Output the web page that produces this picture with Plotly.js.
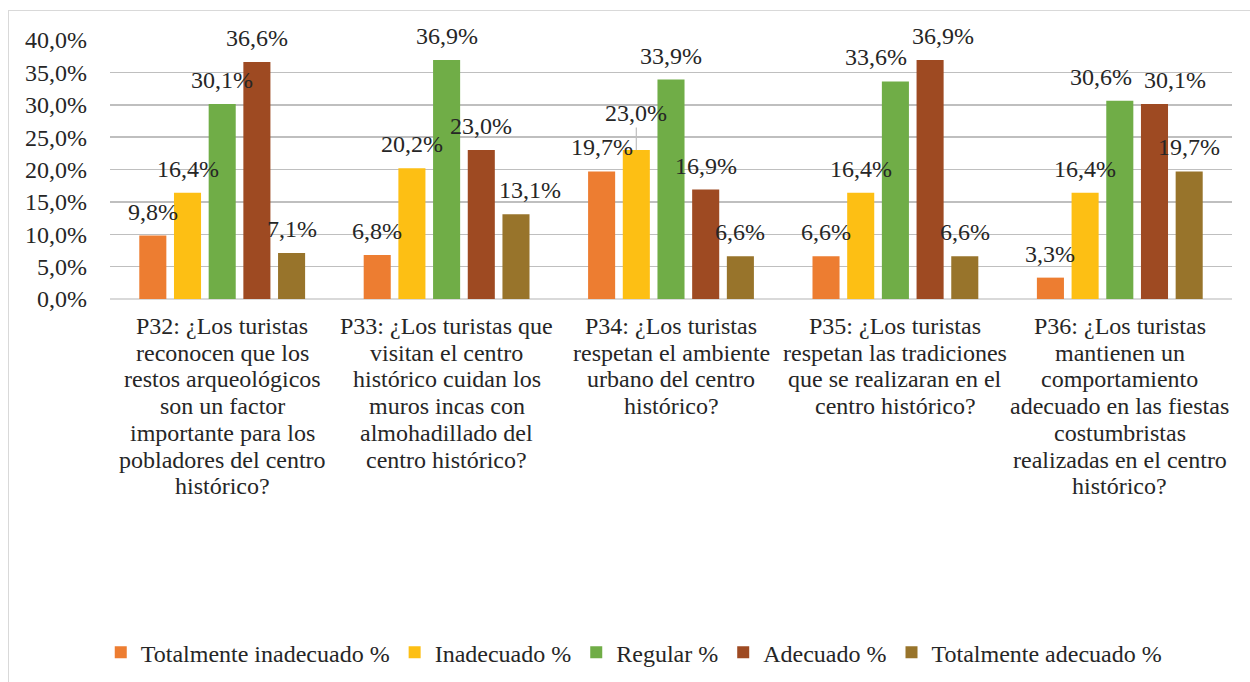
<!DOCTYPE html>
<html>
<head>
<meta charset="utf-8">
<script src="https://cdn.plot.ly/plotly-3.0.1.min.js"></script>
<style>
  html, body { margin:0; padding:0; background:#fff; }
  #chart { width:1250px; height:682px; position:absolute; left:0; top:0; }
  #frame { position:absolute; left:8px; top:10px; width:1245px; height:680px; border:1px solid #D9D9D9; pointer-events:none; }
</style>
</head>
<body>
<div id="chart"></div>
<div id="frame"></div>
<script>
// ---- data ----
const categories = ['P32', 'P33', 'P34', 'P35', 'P36'];
const tickLabels = [
  ['P32: ¿Los turistas', 'reconocen que los', 'restos arqueológicos', 'son un factor', 'importante para los', 'pobladores del centro', 'histórico?'],
  ['P33: ¿Los turistas que', 'visitan el centro', 'histórico cuidan los', 'muros incas con', 'almohadillado del', 'centro histórico?'],
  ['P34: ¿Los turistas', 'respetan el ambiente', 'urbano del centro', 'histórico?'],
  ['P35: ¿Los turistas', 'respetan las tradiciones', 'que se realizaran en el', 'centro histórico?'],
  ['P36: ¿Los turistas', 'mantienen un', 'comportamiento', 'adecuado en las fiestas', 'costumbristas', 'realizadas en el centro', 'histórico?']
];
const seriesNames = ['Totalmente inadecuado %', 'Inadecuado %', 'Regular %', 'Adecuado %', 'Totalmente adecuado %'];
const totalmenteInadecuado = [9.8, 6.8, 19.7, 6.6, 3.3];
const inadecuado = [16.4, 20.2, 23.0, 16.4, 16.4];
const regular = [30.1, 36.9, 33.9, 33.6, 30.6];
const adecuado = [36.6, 23.0, 16.9, 36.9, 30.1];
const totalmenteAdecuado = [7.1, 13.1, 6.6, 6.6, 19.7];

// ---- style ----
const colors = ['#ED7D31', '#FDBF14', '#70AD47', '#9E4A22', '#98742B'];
const FONT = 'Liberation Serif, Times New Roman, serif';
const FS = 24;
const TXT = '#262626';
const W = 1250, H = 682;
const M = { l: 110, r: 18, t: 40, b: 383 };
const BARGAP = 0.227, BARGROUPGAP = 0.22;

const values = [totalmenteInadecuado, inadecuado, regular, adecuado, totalmenteAdecuado];

const traces = values.map((v, i) => ({
  type: 'bar',
  name: seriesNames[i],
  x: categories,
  y: v,
  marker: { color: colors[i], line: { width: 0 } },
  hoverinfo: 'none'
}));

// data-label placement (label nudges as in the original chart)
const plotW = W - M.l - M.r;
const slot = (plotW / categories.length) * (1 - BARGAP) / values.length;
const nudges = { 'P33-4': [14, 0], 'P35-2': [-19, 0], 'P35-3': [13, 0], 'P36-2': [-19, 0], 'P36-3': [21, 0] };
const leader = { 'P34-1': 37 };
const fmt = n => n.toFixed(1).replace('.', ',') + '%';

const annotations = [];
values.forEach((v, i) => {
  v.forEach((val, j) => {
    const key = categories[j] + '-' + i;
    const nd = nudges[key] || [0, 0];
    const base = { x: categories[j], y: val, xref: 'x', yref: 'y', text: fmt(val),
      font: { family: FONT, size: FS, color: TXT }, xshift: (i - (values.length - 1) / 2) * slot + nd[0] };
    if (leader[key]) {
      annotations.push(Object.assign(base, { showarrow: true, arrowhead: 0, arrowwidth: 1.2, arrowcolor: '#BFBFBF',
        ax: 0, ay: -leader[key], standoff: 0, startstandoff: 0 }));
    } else {
      annotations.push(Object.assign(base, { showarrow: false, yanchor: 'middle', yshift: 24 + nd[1] }));
    }
  });
});

// category labels (multi-line, tight line spacing)
tickLabels.forEach((lines, j) => {
  lines.forEach((ln, k) => {
    annotations.push({ x: categories[j], y: 0, xref: 'x', yref: 'paper', text: ln, showarrow: false,
      xanchor: 'center', yanchor: 'middle', yshift: -27 - k * 26.7,
      font: { family: FONT, size: FS, color: TXT } });
  });
});

const layout = {
  width: W,
  height: H,
  margin: M,
  paper_bgcolor: 'rgba(0,0,0,0)',
  plot_bgcolor: 'rgba(0,0,0,0)',
  separators: ',.',
  barmode: 'group',
  bargap: BARGAP,
  bargroupgap: BARGROUPGAP,
  font: { family: FONT, size: FS, color: TXT },
  xaxis: {
    showticklabels: false,
    showgrid: false,
    showline: false,
    ticks: '',
    automargin: false
  },
  yaxis: {
    range: [0, 40],
    dtick: 5,
    tickformat: '.1f',
    ticksuffix: '%',
    tickfont: { family: FONT, size: FS, color: TXT },
    showgrid: true,
    gridcolor: '#BFBFBF',
    gridwidth: 1.5,
    zeroline: true,
    zerolinecolor: '#D9D9D9',
    zerolinewidth: 2,
    showline: false,
    ticks: '',
    ticklabelstandoff: 22,
    automargin: false
  },
  annotations: annotations,
  showlegend: true,
  legend: {
    orientation: 'h',
    xref: 'container',
    yref: 'container',
    x: 0.507,
    xanchor: 'center',
    y: 0.043,
    yanchor: 'middle',
    font: { family: FONT, size: FS, color: TXT },
    itemclick: false
  }
};

Plotly.newPlot('chart', traces, layout, { staticPlot: true, displayModeBar: false });
</script>
</body>
</html>
